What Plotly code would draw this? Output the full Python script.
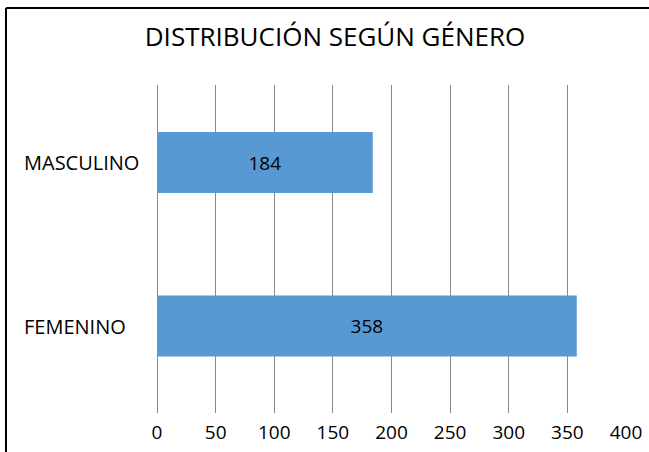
import plotly.graph_objects as go

categories = ["MASCULINO", "FEMENINO"]
values = [184, 358]
tick_vals = [0, 50, 100, 150, 200, 250, 300, 350, 400]
title_text = "DISTRIBUCIÓN SEGÚN GÉNERO"

FONT = "Open Sans, Liberation Sans, sans-serif"

fig = go.Figure(go.Bar(
    x=values,
    y=categories,
    orientation="h",
    marker=dict(color="#5899D3", line=dict(width=0)),
    text=[str(v) for v in values],
    textposition="inside",
    insidetextanchor="middle",
    textfont=dict(family=FONT, size=19, color="#000000"),
    width=0.373,
))

annotations = [
    dict(x=(22 - 157) / 469, y=c, xref="paper", yref="y", text=c, showarrow=False,
         xanchor="left", yanchor="middle",
         font=dict(family=FONT, size=20, color="#000000"))
    for c in categories
]

fig.update_layout(
    width=649, height=452,
    autosize=False,
    margin=dict(l=157, r=23, t=85, b=39, autoexpand=False),
    paper_bgcolor="white", plot_bgcolor="white",
    showlegend=False,
    title=dict(text=title_text, x=335 / 649, xanchor="center", y=1 - 37 / 452, yanchor="middle",
               font=dict(family=FONT, size=26, color="#000000")),
    xaxis=dict(range=[0, 400], tickvals=tick_vals, showgrid=True, gridcolor="#8a8a8a",
               gridwidth=1, zeroline=True, zerolinecolor="#8a8a8a", zerolinewidth=1,
               showline=False, ticks="", ticklabelstandoff=6, automargin=False,
               tickfont=dict(family=FONT, size=19, color="#000000")),
    yaxis=dict(range=[1.532, -0.474], showticklabels=False, showgrid=False,
               zeroline=False, showline=False, automargin=False),
    annotations=annotations,
    shapes=[
        dict(type="line", xref="paper", yref="paper",
             x0=(6 - 157) / 469, x1=(649 - 157) / 469,
             y0=(413 - 8) / 328, y1=(413 - 8) / 328,
             line=dict(color="#000000", width=2)),
        dict(type="line", xref="paper", yref="paper",
             x0=(6 - 157) / 469, x1=(6 - 157) / 469,
             y0=(413 - 8) / 328, y1=(413 - 460) / 328,
             line=dict(color="#000000", width=2)),
    ],
)

fig.write_html("out.html", config={"displayModeBar": False},
               post_script="document.body.style.margin='0';document.body.style.overflow='hidden';")
